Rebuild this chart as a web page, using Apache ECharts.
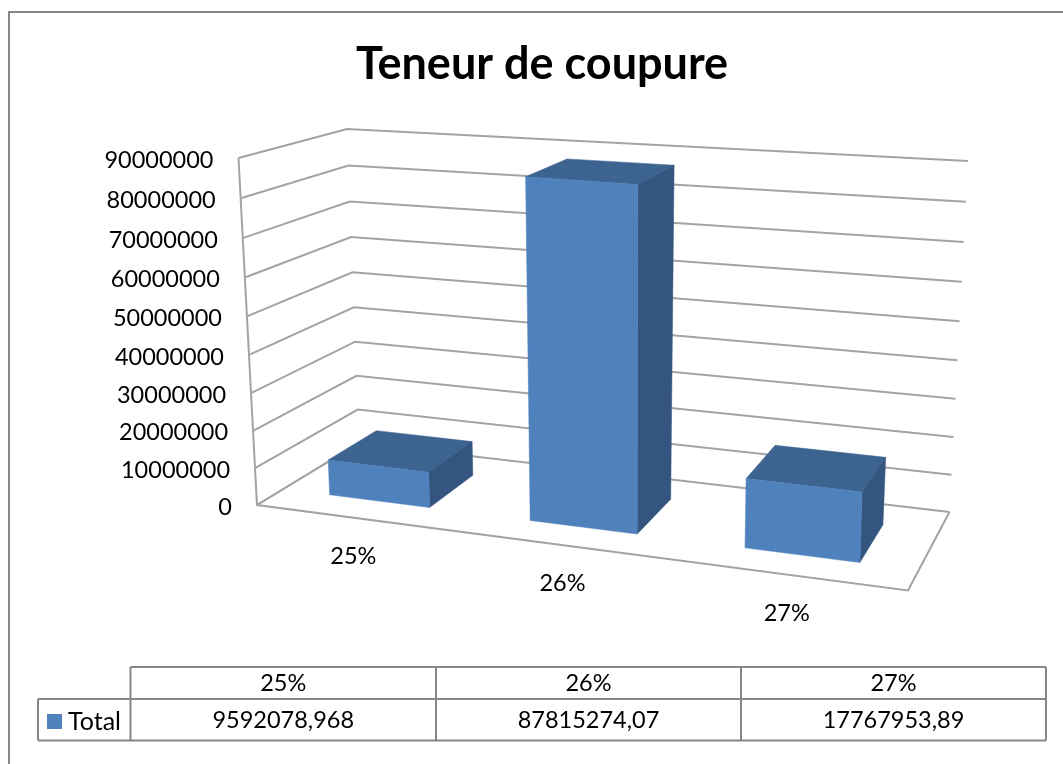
<!DOCTYPE html>
<html>
<head>
<meta charset="utf-8">
<style>html,body{margin:0;padding:0;background:#fff}#c{width:1063px;height:764px}</style>
<script src="https://cdn.jsdelivr.net/npm/echarts@6/dist/echarts.min.js"></script>
</head>
<body>
<div id="c"></div>
<script>
const categories = ['25%', '26%', '27%'];
const totals = [9592078.968, 87815274.07, 17767953.89];
const tableValues = ['9592078,968', '87815274,07', '17767953,89'];
const yTicks = [0, 10000000, 20000000, 30000000, 40000000, 50000000, 60000000, 70000000, 80000000, 90000000];

const FONT = 'Lato';
const FS = 23.5;
const GRID = {left: 257, top: 158, width: 651, height: 347};
// box corners on screen: [depth][height][side]
const C = {
  fb0: [257, 505], fb1: [908, 590.5], bb0: [359, 443], bb1: [949.5, 512],
  ft0: [238.5, 158], ft1: [921, 207], bt0: [347, 129], bt1: [968, 161]
};
const warp = (v, k) => v / (v + k * (1 - v));
const mix = (a, b, f) => [a[0] + (b[0] - a[0]) * f, a[1] + (b[1] - a[1]) * f];
function project(u, d, t) {
  const front = mix(mix(C.fb0, C.fb1, u), mix(C.ft0, C.ft1, u), t);
  const back = mix(mix(C.bb0, C.bb1, u), mix(C.bt0, C.bt1, u), t);
  return mix(front, back, d);
}
const normU = (x, cs) => warp((x - cs.x) / cs.width, 1.11);
const normT = (y, cs) => warp((cs.y + cs.height - y) / cs.height, 1.05);

function renderWalls(params, api) {
  const cs = params.coordSys;
  const t = normT(api.coord([0, api.value(0)])[1], cs);
  const a = project(0, 0, t), b = project(0, 1, t), c = project(1, 1, t), l = [a[0] - 25, a[1] + 2];
  const line = {stroke: '#a3a3a3', lineWidth: 2, fill: null};
  return {type: 'group', silent: true, children: [
    {type: 'polyline', shape: {points: [a, b, c]}, style: line},
    {type: 'text', style: {x: l[0], y: l[1], text: String(api.value(0)), fill: '#000', fontSize: FS, fontFamily: FONT, align: 'right', verticalAlign: 'middle'}}
  ]};
}
function renderFrame(params) {
  const P = (u, d, t) => project(u, d, t);
  const line = {stroke: '#a3a3a3', lineWidth: 2, fill: null};
  return {type: 'group', silent: true, children: [
    {type: 'polyline', shape: {points: [P(0, 0, 1), P(0, 0, 0), P(1, 0, 0), P(1, 1, 0)]}, style: line},
    {type: 'polyline', shape: {points: [P(0, 0, 0), P(0, 1, 0)]}, style: line}
  ]};
}
function renderBar(params, api) {
  const cs = params.coordSys;
  const i = api.value(0), top = api.coord([i, api.value(1)]), band = api.size([1, 0])[0];
  const u0 = normU(top[0] - band * 0.26, cs), u1 = normU(top[0] + band * 0.247, cs);
  const t = normT(top[1], cs), d0 = 0.26, d1 = 0.75;
  const P = (u, d, h) => project(u, d, h);
  const face = (pts, fill) => ({type: 'polygon', shape: {points: pts}, style: {fill: fill, stroke: fill, lineWidth: 0.5}});
  return {type: 'group', children: [
    face([P(u0, d0, t), P(u0, d1, t), P(u1, d1, t), P(u1, d0, t)], '#3D6390'),
    face([P(u1, d0, 0), P(u1, d1, 0), P(u1, d1, t), P(u1, d0, t)], '#33557F'),
    face([P(u0, d0, 0), P(u1, d0, 0), P(u1, d0, t), P(u0, d0, t)], '#4F81BD')
  ]};
}
function renderCatLabel(params, api) {
  const cs = params.coordSys;
  const c = api.coord([api.value(0), 0]);
  const p = project(normU(c[0], cs), 0, 0);
  return {type: 'text', silent: true, style: {x: p[0] - 3, y: p[1] + 38, text: categories[api.value(0)], fill: '#000', fontSize: FS, fontFamily: FONT, align: 'center', verticalAlign: 'middle'}};
}

const LINE = {stroke: '#868686', lineWidth: 2};
const seg = (x1, y1, x2, y2, s) => ({type: 'line', shape: {x1, y1, x2, y2}, style: s || LINE, silent: true});
const cellX = [130.5, 436, 741, 1046];
const rowY = [667, 699, 740.5];
const table = [
  seg(cellX[0], rowY[0], cellX[3], rowY[0]),
  seg(38, rowY[1], cellX[3], rowY[1]),
  seg(38, rowY[2], cellX[3], rowY[2]),
  seg(38, rowY[1], 38, rowY[2])
];
cellX.forEach(x => table.push(seg(x, rowY[0], x, rowY[2])));
categories.forEach((c, i) => {
  const x = (cellX[i] + cellX[i + 1]) / 2;
  table.push({type: 'text', silent: true, x, y: 683, style: {text: c, fill: '#000', fontSize: FS, fontFamily: FONT, textAlign: 'center', textVerticalAlign: 'middle'}});
  table.push({type: 'text', silent: true, x, y: 720, style: {text: tableValues[i], fill: '#000', fontSize: FS, fontFamily: FONT, textAlign: 'center', textVerticalAlign: 'middle'}});
});
const border = {type: 'polyline', silent: true, shape: {points: [[9, 770], [9, 12], [1070, 12]]}, style: {stroke: '#868686', lineWidth: 2, fill: null}};

const chart = echarts.init(document.getElementById('c'), null, {renderer: 'canvas'});
chart.setOption({
  animation: false,
  backgroundColor: '#fff',
  title: {text: 'Teneur de coupure', left: 537, top: 37, textAlign: 'center',
    textStyle: {fontFamily: FONT, fontWeight: 'bold', fontSize: 45, color: '#000'}},
  legend: {data: ['Total'], left: 47, top: 709, icon: 'rect', itemWidth: 15, itemHeight: 15, itemGap: 6, selectedMode: false,
    textStyle: {fontFamily: FONT, fontSize: 25, color: '#000', padding: [0, 0, 0, 1]}, padding: 0},
  grid: GRID,
  xAxis: {type: 'category', data: categories, show: false},
  yAxis: {type: 'value', min: 0, max: 90000000, interval: 10000000, show: false},
  graphic: {elements: [border].concat(table)},
  tooltip: {show: false},
  series: [
    {name: 'walls', type: 'custom', renderItem: renderWalls, data: yTicks.map(v => [v]), encode: {y: 0}, clip: false, silent: true, z: 1},
    {name: 'frame', type: 'custom', renderItem: renderFrame, data: [[0]], clip: false, silent: true, z: 2},
    {name: 'Total', type: 'custom', renderItem: renderBar, data: totals.map((v, i) => [i, v]), encode: {x: 0, y: 1}, clip: false, itemStyle: {color: '#4F81BD'}, z: 3},
    {name: 'labels', type: 'custom', renderItem: renderCatLabel, data: categories.map((c, i) => [i]), encode: {x: 0}, clip: false, silent: true, z: 4}
  ]
});
</script>
</body>
</html>
